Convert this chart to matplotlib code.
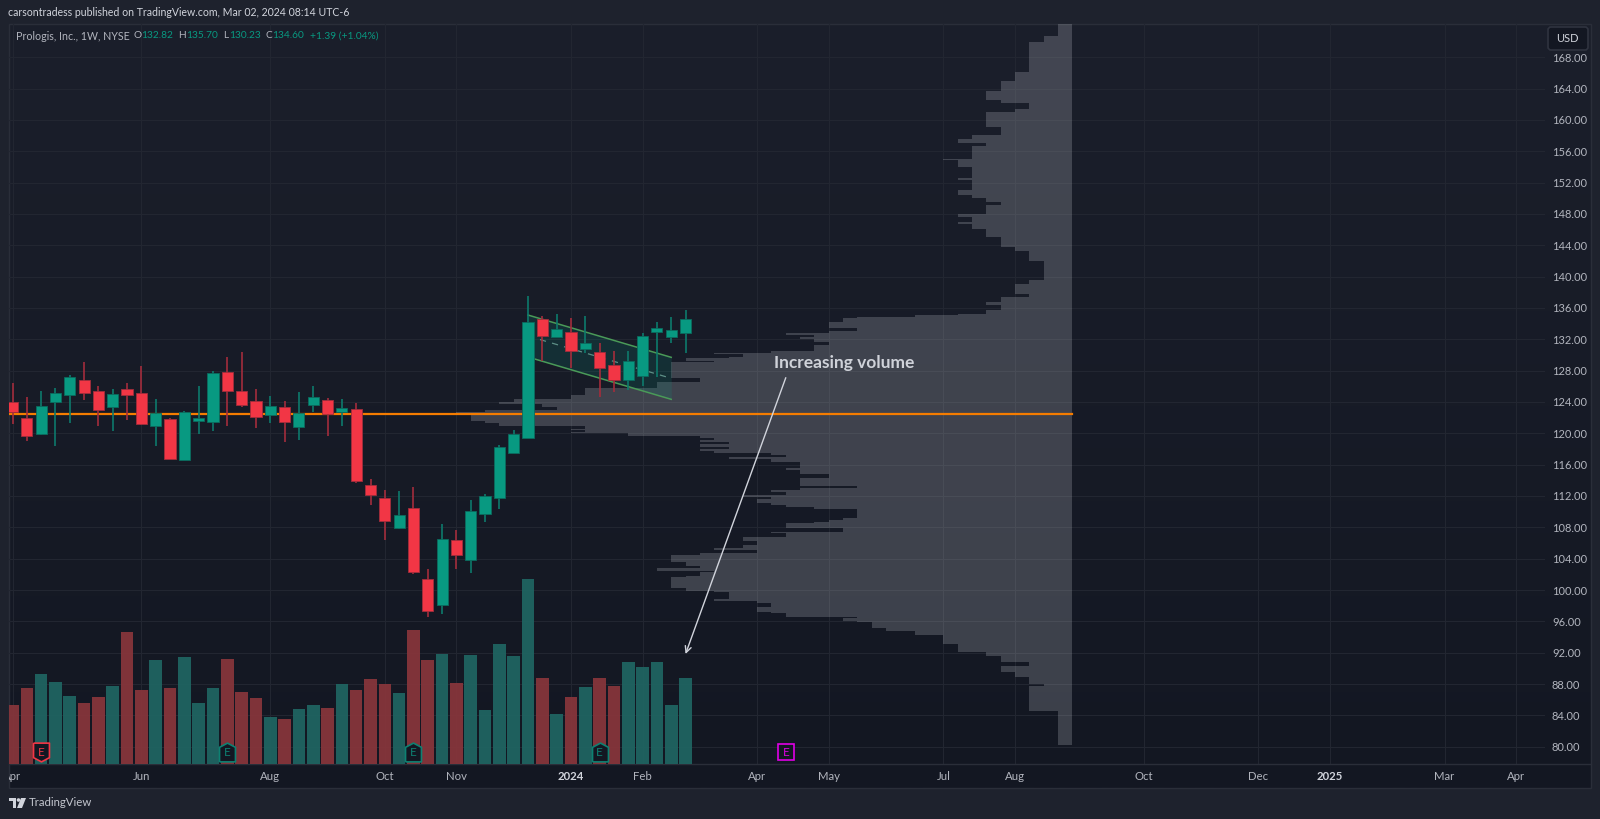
import numpy as np
import matplotlib
matplotlib.use("Agg")
import matplotlib.pyplot as plt
from matplotlib.patches import Rectangle, FancyBboxPatch, Polygon, Circle
from matplotlib.transforms import Bbox, IdentityTransform

plt.rcParams["font.family"] = ["Lato", "DejaVu Sans"]

W, H = 1600, 819

# weekly candles, Apr 2023 onwards
opens = [123.95, 121.95, 119.87, 124.04, 124.89, 126.76, 125.40, 123.36, 125.66, 125.10, 120.93, 121.87,
         116.63, 121.57, 121.44, 127.87, 125.40, 124.08, 122.38, 123.40, 120.80, 123.57, 124.29, 122.72,
         123.10, 113.40, 111.74, 107.87, 110.51, 101.40, 98.08, 106.38, 103.87, 109.74, 111.74, 117.44,
         119.36, 134.55, 132.34, 132.89, 130.76, 130.34, 128.76, 126.80, 127.36, 132.93, 132.25, 132.82]
highs = [126.38, 124.68, 125.40, 125.74, 127.44, 129.06, 126.04, 125.66, 126.42, 128.55, 124.42, 122.00,
         122.89, 126.00, 127.95, 129.74, 130.34, 125.66, 124.76, 124.08, 125.31, 126.00, 124.51, 124.34,
         123.87, 114.17, 112.76, 112.63, 113.19, 102.63, 108.42, 107.66, 111.53, 112.21, 118.51, 120.42,
         137.57, 134.97, 135.23, 134.68, 134.97, 131.53, 130.46, 130.46, 132.76, 134.21, 134.89, 135.70]
lows = [121.19, 118.97, 119.78, 118.42, 121.27, 124.25, 120.97, 120.34, 121.66, 121.06, 118.42, 116.76,
        116.63, 119.87, 120.34, 120.97, 123.40, 120.68, 121.27, 118.89, 119.19, 122.76, 119.70, 120.97,
        113.70, 110.85, 106.38, 107.74, 102.08, 96.59, 96.97, 102.63, 102.17, 108.72, 110.29, 117.44,
        119.36, 129.23, 132.34, 128.38, 130.29, 124.68, 125.31, 125.57, 126.04, 127.23, 131.53, 130.23]
closes = [122.72, 119.70, 123.53, 125.19, 127.19, 125.14, 123.02, 124.97, 124.89, 121.23, 122.63, 116.76,
          122.68, 121.95, 127.74, 125.36, 123.57, 122.12, 123.53, 121.44, 122.63, 124.63, 122.46, 123.19,
          113.95, 112.12, 108.85, 109.61, 102.29, 97.27, 106.51, 104.51, 110.08, 111.95, 118.29, 119.87,
          134.21, 132.38, 133.27, 130.46, 131.53, 128.34, 126.80, 129.19, 132.42, 133.44, 133.19, 134.60]
# volume in millions, scale is a guess since the chart has no volume axis
volumes = [1.76, 2.28, 2.70, 2.46, 2.04, 1.83, 2.00, 2.34, 3.95, 2.22, 3.12, 2.28,
           3.22, 1.83, 2.28, 3.15, 2.15, 1.99, 1.41, 1.34, 1.65, 1.78, 1.68, 2.39,
           2.22, 2.54, 2.39, 2.12, 4.03, 3.12, 3.30, 2.43, 3.27, 1.62, 3.59, 3.24,
           5.55, 2.59, 1.50, 2.02, 2.31, 2.59, 2.35, 3.06, 2.91, 3.06, 1.76, 2.57]

# visible range profile: top price of each row and its width counted in weeks
profile_tops = [172.3, 170.72, 169.95, 166.16, 165.02, 163.74, 162.55, 162.12, 161.44, 161.02, 159.14, 158.08,
                157.53, 157.02, 156.72, 155.06, 154.85, 154.04, 152.55, 152.33, 151.06, 150.42, 150.08, 149.57,
                149.14, 148.04, 147.61, 146.97, 146.72, 146.12, 145.10, 143.82, 143.31, 141.95, 139.57, 139.02,
                137.82, 137.44, 136.76, 136.33, 135.74, 135.23, 135.06, 134.89, 134.68, 134.25, 133.49, 133.11,
                132.85, 132.60, 132.25, 132.00, 131.66, 131.32, 130.51, 130.30, 130.13, 129.79, 129.57, 129.28,
                129.11, 127.02, 126.51, 125.83, 124.89, 124.34, 124.04, 123.74, 123.40, 122.97, 122.78, 122.45,
                121.57, 121.27, 120.97, 120.55, 120.42, 120.21, 120.08, 119.70, 119.36, 119.15, 118.85, 118.60,
                118.30, 118.00, 117.74, 117.45, 117.27, 117.02, 116.94, 116.68, 116.30, 115.62, 115.32, 114.83,
                114.29, 113.27, 113.06, 112.76, 112.55, 112.13, 111.91, 111.62, 111.15, 110.85, 110.64, 110.30,
                109.15, 108.94, 108.72, 108.51, 107.87, 107.45, 107.23, 106.72, 106.30, 105.74, 105.40, 105.11,
                104.77, 104.47, 103.62, 103.11, 102.77, 102.47, 102.26, 101.79, 101.62, 100.21, 99.92, 99.70,
                98.81, 98.60, 98.38, 97.87, 97.23, 97.02, 96.60, 96.38, 96.09, 95.87, 95.11, 94.77,
                94.26, 93.11, 92.13, 91.58, 90.85, 90.30, 89.49, 88.94, 88.00, 87.79, 84.60]
profile_counts = [1, 2, 3, 4, 5, 6, 5, 3, 4, 6, 5, 7,
                  8, 6, 7, 9, 8, 7, 8, 7, 8, 7, 6, 5,
                  6, 8, 7, 8, 7, 6, 5, 4, 3, 2, 3, 4,
                  3, 5, 6, 5, 6, 8, 11, 15, 16, 17, 15, 17,
                  20, 18, 19, 18, 17, 18, 21, 25, 23, 24, 27, 25,
                  28, 26, 29, 34, 35, 39, 40, 37, 36, 41, 43, 42,
                  41, 40, 34, 35, 34, 35, 31, 26, 25, 26, 24, 26,
                  24, 26, 25, 21, 20, 21, 24, 21, 19, 20, 19, 17,
                  19, 15, 19, 21, 20, 23, 21, 22, 21, 20, 18, 15,
                  16, 17, 18, 20, 16, 21, 20, 23, 22, 23, 25, 22,
                  26, 28, 27, 26, 29, 25, 26, 27, 28, 27, 25, 24,
                  25, 22, 21, 22, 21, 20, 15, 16, 15, 14, 13, 11,
                  9, 8, 6, 5, 3, 5, 4, 3, 2, 3, 1]
profile_bottom = 80.21
profile_right = 74

poc_price = 122.47
channel_upper = [(36, 135.10), (46, 129.70)]
channel_lower = [(36, 129.74), (46, 124.34)]

price_ticks = list(range(80, 169, 4))
month_ticks = [0, 9, 18, 26, 31, 39, 44, 52, 57, 65, 70, 79, 87, 92, 100, 105]
month_labels = ["Apr", "Jun", "Aug", "Oct", "Nov", "2024", "Feb", "Apr", "May", "Jul", "Aug", "Oct", "Dec", "2025", "Mar", "Apr"]
earnings_past = [(2, "#f23645"), (15, "#089981"), (28, "#089981"), (41, "#089981")]
earnings_next = 54

UP = "#089981"
DOWN = "#f23645"
GRID = "#222631"


def fx(px):
    return px / W


def fy(py):
    return 1 - py / H


def label(px, py, s, color, size=8.8, **kw):
    fig.text(fx(px), fy(py), s, color=color, fontsize=size, va="center", **kw)


fig = plt.figure(figsize=(16, 8.19), dpi=100, facecolor="#1e222d")

# chart panel with the slight top to bottom fade
bg_ax = fig.add_axes([fx(9), fy(788), fx(1582), (788 - 24) / H], zorder=0)
fade = np.linspace(0, 1, 256)[:, None, None]
top_col = np.array([27, 31, 43]) / 255
bot_col = np.array([19, 23, 34]) / 255
bg_ax.imshow(top_col + (bot_col - top_col) * fade, aspect="auto")
bg_ax.axis("off")

rect = [fx(9), fy(764), fx(1536), (764 - 24) / H]
xlim = ((9 - 12.5) / 14.32, (1545 - 12.5) / 14.32)
ylim = (77.79, 172.25)

ax = fig.add_axes(rect, zorder=1)
ax.patch.set_visible(False)
ax_vol = fig.add_axes(rect, zorder=2)
ax_vol.patch.set_visible(False)

x = np.arange(len(opens))
rising = [c >= o for o, c in zip(opens, closes)]

# volume sits over the grid, only a trace of it shows through
vol_colors = ["#1f6461" if r else "#87353b" for r in rising]
ax_vol.bar(x, volumes, width=0.88, color=vol_colors, alpha=0.94, linewidth=0)
ax_vol.set_xlim(xlim)
ax_vol.set_ylim(0, 22.2)
ax_vol.axis("off")

ax.set_xlim(xlim)
ax.set_ylim(ylim)
ax.set_xticks(month_ticks, month_labels)
ax.set_yticks(price_ticks, ["%.2f" % p for p in price_ticks])
ax.yaxis.tick_right()
ax.grid(True, color=GRID, linewidth=0.8, zorder=0)
ax.set_axisbelow(True)
ax.tick_params(axis="y", length=0, pad=5, labelsize=8, labelcolor="#b2b5be")
ax.tick_params(axis="x", length=0, pad=5, labelsize=8.2, labelcolor="#b2b5be")
for s in ax.spines.values():
    s.set_visible(False)

# first month label gets cut by the panel edge
first = ax.get_xticklabels()[0]
first.set_clip_box(Bbox([[9, 0], [W, H]]))
first.set_clip_on(True)
for t in ax.get_xticklabels():
    if t.get_text() in ("2024", "2025"):
        t.set_color("#d1d4dc")
        t.set_fontweight("bold")

# volume profile
tops = profile_tops + [profile_bottom]
widths = profile_right - np.array(profile_counts + [profile_counts[-1]])
ax.fill_betweenx(tops, widths, profile_right, step="post", color="#d1d4dc", alpha=0.22, linewidth=0, zorder=1)

# channel
cx = [channel_upper[0][0], channel_upper[1][0]]
up_y = [channel_upper[0][1], channel_upper[1][1]]
lo_y = [channel_lower[0][1], channel_lower[1][1]]
mid_y = [(a + b) / 2 for a, b in zip(up_y, lo_y)]
ax.fill_between(cx, lo_y, up_y, color=UP, alpha=0.16, linewidth=0, zorder=2)
ax.plot(cx, up_y, color="#4a9a58", linewidth=1.1, zorder=2.5)
ax.plot(cx, lo_y, color="#4a9a58", linewidth=1.1, zorder=2.5)
ax.plot(cx, mid_y, color="#5d8f86", linewidth=0.9, linestyle=(0, (5, 5)), zorder=2.5)

ax.plot([xlim[0], profile_right], [poc_price, poc_price], color="#f57c00", linewidth=1.6, zorder=3)

# candles
for i in x:
    ax.plot([i, i], [lows[i], highs[i]], color="#0d7a6c" if rising[i] else "#a32d3c", linewidth=1.2,
            solid_capstyle="butt", zorder=4)
bottoms = [min(o, c) for o, c in zip(opens, closes)]
heights = [abs(o - c) for o, c in zip(opens, closes)]
ax.bar(x, heights, bottom=bottoms, width=0.78, color=[UP if r else DOWN for r in rising],
       edgecolor=["#0b6b5e" if r else "#a32d3c" for r in rising], linewidth=0.6, zorder=5)

# annotation
ax.annotate("", xy=(47, 91.83), xytext=(54, 127.1),
            arrowprops=dict(arrowstyle="->,head_length=0.45,head_width=0.22", color="#d1d4dc", linewidth=1, shrinkA=0, shrinkB=0),
            zorder=6)
ax.text(53.2, 128.98, "Increasing volume", color="#cfd2d9", fontsize=12.5, fontweight="bold", va="center", zorder=6)

# earnings badges go on the top axes, over the volume bars
badge_y = 168 - (752.5 - 57.3) / 7.834
for i, col in earnings_past:
    if col == DOWN:
        verts = [(-0.85, 1), (0.85, 1), (0.85, -0.55), (0, -1), (-0.85, -0.55), (-0.85, 1)]
    else:
        verts = [(-0.85, -1), (0.85, -1), (0.85, 0.55), (0, 1), (-0.85, 0.55), (-0.85, -1)]
    edge = col if col == DOWN else "#0d8172"
    ax_vol.plot([i], [badge_y], marker=verts, markersize=13.5, markerfacecolor="#131722", markeredgecolor=edge,
                markeredgewidth=1.2, linestyle="none", transform=ax.transData, zorder=6)
    ax_vol.text(i, badge_y, "E", color=edge, fontsize=8.5, ha="center", va="center", transform=ax.transData, zorder=7)
ax_vol.plot([earnings_next], [badge_y], marker="s", markersize=11, markerfacecolor="#131722", markeredgecolor="#e000e6",
            markeredgewidth=1.2, linestyle="none", transform=ax.transData, zorder=6)
ax_vol.text(earnings_next, badge_y, "E", color="#e000e6", fontsize=8.5, ha="center", va="center", transform=ax.transData, zorder=7)
ax_vol.set_xlim(xlim)
ax_vol.set_ylim(0, 22.2)

# frame
fig.add_artist(Rectangle((fx(9), fy(788)), fx(1582), (788 - 24) / H, transform=fig.transFigure, fill=False,
                         edgecolor="#2a2e39", linewidth=1))
fig.add_artist(plt.Line2D([fx(9), fx(1591)], [fy(764), fy(764)], color="#2a2e39", linewidth=1))

# USD button
fig.add_artist(FancyBboxPatch((1548, H - 50), 40, 23, boxstyle="round,pad=0,rounding_size=3", transform=IdentityTransform(),
                              facecolor="#131722", edgecolor="#2f333f", linewidth=1.2))
fig.text(fx(1567.5), fy(39), "USD", color="#d1d4dc", fontsize=8, ha="center", va="center")

# header and legend
label(8, 13, "carsontradess published on TradingView.com, Mar 02, 2024 08:14 UTC-6", "#d1d4dc", size=7.6)
grey = "#b2b5be"
label(15.5, 36, "Prologis, Inc., 1W, NYSE", grey, size=7.7)
for px, s, c in [(133.5, "O", grey), (141.5, "132.82", UP), (178, "H", grey), (186, "135.70", UP),
                 (223, "L", grey), (229, "130.23", UP), (265, "C", grey), (272.5, "134.60", UP),
                 (310, "+1.39 (+1.04%)", UP)]:
    label(px, 36, s, c, size=7.3)

# footer logo
logo = "#d1d4dc"
fig.add_artist(Polygon([(fx(9), fy(798)), (fx(16), fy(798)), (fx(16), fy(808)), (fx(12.5), fy(808)), (fx(12.5), fy(801)), (fx(9), fy(801))],
                       transform=fig.transFigure, facecolor=logo, edgecolor="none"))
fig.add_artist(Circle((18.5, H - 800), 1.8, transform=IdentityTransform(), facecolor=logo, edgecolor="none"))
fig.add_artist(Polygon([(fx(21), fy(798)), (fx(26), fy(798)), (fx(22), fy(808)), (fx(17), fy(808))],
                       transform=fig.transFigure, facecolor=logo, edgecolor="none"))
label(29, 803, "TradingView", "#c3c6ce", size=8.2)

fig.savefig("out.png", dpi=100, facecolor=fig.get_facecolor())
